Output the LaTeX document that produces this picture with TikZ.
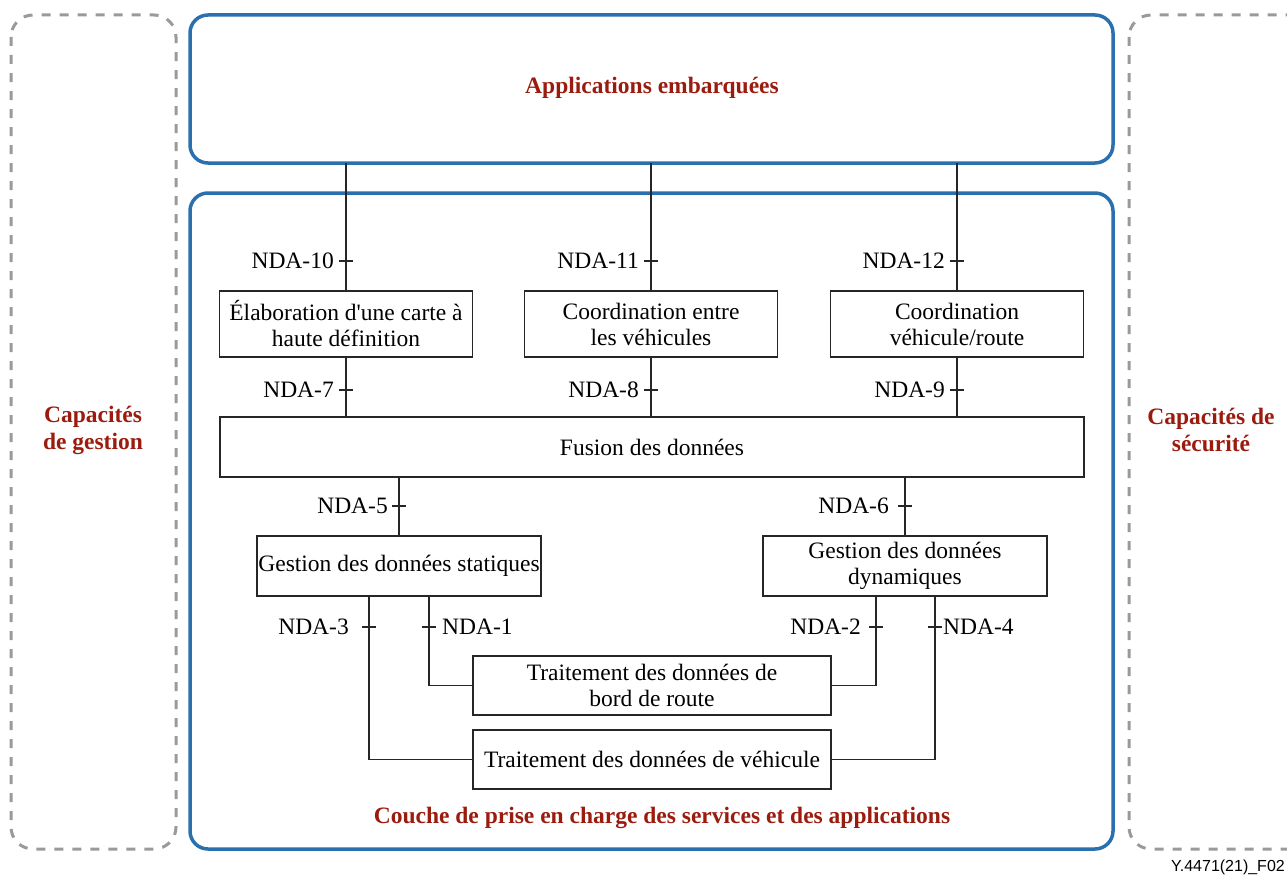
\documentclass[tikz,border=0pt]{standalone}
\usepackage{fontspec}
\setmainfont{Liberation Serif}
\newfontfamily\sansf{Liberation Sans}
\definecolor{lblue}{HTML}{2A6FAE}
\definecolor{lred}{HTML}{9B1C0F}
\definecolor{lgray}{HTML}{9A9A9A}
\begin{document}
\begin{tikzpicture}[x=1pt,y=-1pt,
  txt/.style={font=\fontsize{23.5}{26}\selectfont},
  ttl/.style={font=\fontsize{23.5}{27}\selectfont\bfseries, text=lred, align=center},
  layer/.style={draw=lblue, line width=3.5pt, rounded corners=18pt},
  side/.style={draw=lgray, line width=3pt, dash pattern=on 9pt off 9pt, rounded corners=22pt},
  fbox/.style={draw=black!85, line width=1.6pt, inner sep=0pt, align=center, txt},
  conn/.style={draw=black!85, line width=1.6pt},
  lab/.style={txt, inner sep=0pt}
]
\clip (0,0) rectangle (1287,875);
% side capabilities
\draw[side] (11,15) rectangle (176,849);
\draw[side] (1129,15) rectangle (1330,849);
\node[ttl] (gest) at (93,430) {Capacités\\de gestion};
\node[ttl] (secu) at (1211,430) {Capacités de\\sécurité};
% layers
\draw[layer] (190,15) rectangle (1113,163);
\node[ttl] (appl) at (652,88) {Applications embarquées};
\coordinate (appbot) at (652,163);
\draw[layer] (190,193) rectangle (1113,849);
\node[ttl] (couche) at (662,818) {Couche de prise en charge des services et des applications};
% boxes
\node[fbox, minimum width=253pt, minimum height=66pt] (elab) at (346,324) {Élaboration d\textquotesingle une carte à\\haute définition};
\node[fbox, minimum width=253pt, minimum height=66pt] (cveh) at (651,324) {Coordination entre\\les véhicules};
\node[fbox, minimum width=253pt, minimum height=66pt] (croute) at (957,324) {Coordination\\véhicule/route};
\node[fbox, minimum width=864pt, minimum height=60pt] (fusion) at (652,447) {Fusion des données};
\node[fbox, minimum width=284pt, minimum height=60pt] (stat) at (399,566) {Gestion des données statiques};
\node[fbox, minimum width=284pt, minimum height=60pt] (dyn) at (905,566) {Gestion des données\\dynamiques};
\node[fbox, minimum width=358pt, minimum height=59pt] (bord) at (652,685.5) {Traitement des données de\\bord de route};
\node[fbox, minimum width=358pt, minimum height=59pt] (veh) at (652,759.5) {Traitement des données de véhicule};
% connectors top
\draw[conn] (elab.north) -- (elab.north |- appbot);
\draw[conn] (cveh.north) -- (cveh.north |- appbot);
\draw[conn] (croute.north) -- (croute.north |- appbot);
\draw[conn] (elab.south) -- (elab.south |- fusion.north);
\draw[conn] (cveh.south) -- (cveh.south |- fusion.north);
\draw[conn] (croute.south) -- (croute.south |- fusion.north);
\draw[conn] (stat.north) -- (stat.north |- fusion.south);
\draw[conn] (dyn.north) -- (dyn.north |- fusion.south);
\draw[conn] ([xshift=30pt]stat.south) |- (bord.west);
\draw[conn] ([xshift=-30pt]stat.south) |- (veh.west);
\draw[conn] ([xshift=-29pt]dyn.south) |- (bord.east);
\draw[conn] ([xshift=30pt]dyn.south) |- (veh.east);
% ticks
\foreach \x/\y in {346/261, 651/261, 957/261, 346/390, 651/390, 957/390, 399/506, 905/506, 369/627, 429/627, 876/627, 935/627}
  \draw[conn] (\x-7,\y) -- (\x+7,\y);
% labels
\node[lab, anchor=east] (n10) at (334,261) {NDA-10};
\node[lab, anchor=east] (n11) at (639,261) {NDA-11};
\node[lab, anchor=east] (n12) at (945,261) {NDA-12};
\node[lab, anchor=east] (n7) at (334,390) {NDA-7};
\node[lab, anchor=east] (n8) at (639,390) {NDA-8};
\node[lab, anchor=east] (n9) at (945,390) {NDA-9};
\node[lab, anchor=east] (n5) at (388,506) {NDA-5};
\node[lab, anchor=east] (n6) at (889,506) {NDA-6};
\node[lab, anchor=east] (n3) at (349,627) {NDA-3};
\node[lab, anchor=west] (n1) at (442,627) {NDA-1};
\node[lab, anchor=east] (n2) at (861,627) {NDA-2};
\node[lab, anchor=west] (n4) at (943,627) {NDA-4};
% figure id
\node[anchor=east, inner sep=0pt, font=\sansf\fontsize{16}{18}\selectfont] (fid) at (1285,867) {Y.4471(21)\_F02};
\end{tikzpicture}
\end{document}
